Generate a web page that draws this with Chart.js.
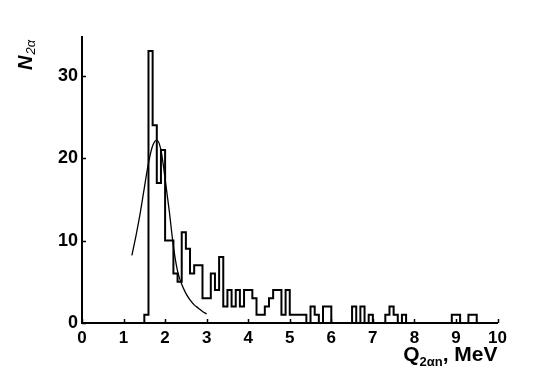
<!DOCTYPE html>
<html><head><meta charset="utf-8">
<script src="https://cdn.jsdelivr.net/npm/chart.js@4.4.1/dist/chart.umd.min.js"></script>
<style>html,body{margin:0;padding:0;background:#fff;overflow:hidden}</style>
</head><body>
<canvas id="c" width="553" height="381"></canvas>
<script>
// Histogram: lower bin edges (MeV) and counts
const binLow = [1.5,1.6,1.7,1.8,1.9,2.0,2.1,2.2,2.3,2.4,2.5,2.6,2.7,2.8,2.9,3.0,3.1,3.2,3.3,3.4,
  3.5,3.6,3.7,3.8,3.9,4.0,4.1,4.2,4.3,4.4,4.5,4.6,4.7,4.8,4.9,5.0,5.1,5.2,5.3,5.4,
  5.5,5.6,5.7,5.8,5.9,6.0,6.1,6.2,6.3,6.4,6.5,6.6,6.7,6.8,6.9,7.0,7.1,7.2,7.3,7.4,
  7.5,7.6,7.7,7.8,7.9,8.0,8.1,8.2,8.3,8.4,8.5,8.6,8.7,8.8,8.9,9.0,9.1,9.2,9.3,9.4];
const lastEdge = 9.5;
const counts = [1,33,24,17,21,10,10,6,5,11,9,6,7,7,3,3,6,4,8,2,
  4,2,4,2,4,4,3,1,1,2,3,4,4,1,4,1,1,1,1,0,
  2,1,0,2,2,0,0,0,0,0,2,0,2,0,1,0,0,0,1,2,
  1,0,1,0,0,0,0,0,0,0,0,0,0,0,1,1,0,0,1,1];
// Fitted curve
const fitQ = [1.2,1.3,1.4,1.5,1.6,1.7,1.8,1.9,2.0,2.1,2.2,2.3,2.4,2.5,2.6,2.7,2.8,2.9,3.0];
const fitN = [8.2,10.6,13.3,16.4,19.4,21.5,22.2,21.0,17.5,13.6,9.3,6.3,4.7,3.6,2.8,2.2,1.8,1.4,1.1];
const xTicks = [0,1,2,3,4,5,6,7,8,9,10];
const yTicks = [0,10,20,30];

const histPts = [{x: binLow[0], y: 0}];
binLow.forEach((q, i) => histPts.push({x: q, y: counts[i]}));
histPts.push({x: lastEdge, y: 0});
const fitPts = fitQ.map((q, i) => ({x: q, y: fitN[i]}));

const FONT = '"Liberation Sans", Arial, sans-serif';

const decor = {
  id: 'decor',
  afterDraw(chart) {
    const ctx = chart.ctx, xs = chart.scales.x, ys = chart.scales.y;
    const a = chart.chartArea;
    ctx.save();
    ctx.strokeStyle = '#000'; ctx.lineWidth = 1.5;
    ctx.beginPath();
    xTicks.forEach(v => { const p = Math.round(xs.getPixelForValue(v)) + 0.5; ctx.moveTo(p, a.bottom); ctx.lineTo(p, a.bottom - 4); });
    yTicks.forEach(v => { const p = Math.round(ys.getPixelForValue(v)) + 0.5; ctx.moveTo(a.left, p); ctx.lineTo(a.left + 4, p); });
    ctx.stroke();
    ctx.fillStyle = '#000';
    // X title: Q_{2αn}, MeV (right aligned to axis end)
    const big = 'bold 21px ' + FONT, small = 'bold 13px ' + FONT;
    ctx.font = big; const wQ = ctx.measureText('Q').width; const wM = ctx.measureText(', MeV').width;
    ctx.font = small; const wS = ctx.measureText('2\u03B1n').width;
    let x0 = a.right - (wQ + wS + wM);
    const base = 361;
    ctx.textBaseline = 'alphabetic'; ctx.textAlign = 'left';
    ctx.font = big; ctx.fillText('Q', x0, base);
    ctx.font = small; ctx.fillText('2\u03B1n', x0 + wQ, base + 5);
    ctx.font = big; ctx.fillText(', MeV', x0 + wQ + wS, base);
    // Y title: N_{2α}, rotated
    ctx.translate(32, 70);
    ctx.rotate(-Math.PI / 2);
    ctx.font = 'italic bold 20px ' + FONT; ctx.fillText('N', 0, 0);
    const wN = ctx.measureText('N').width;
    ctx.font = 'italic 13px ' + FONT; ctx.fillText('2\u03B1', wN + 1, 3);
    ctx.restore();
  }
};

new Chart(document.getElementById('c'), {
  type: 'line',
  data: { datasets: [
    { data: histPts, stepped: 'before', borderColor: '#000', borderWidth: 2, pointRadius: 0, fill: false, tension: 0 },
    { data: fitPts, borderColor: '#000', borderWidth: 1.3, pointRadius: 0, fill: false, tension: 0.4, cubicInterpolationMode: 'monotone' }
  ]},
  options: {
    responsive: false, animation: false, devicePixelRatio: 1,
    layout: { padding: { left: 0, right: 55.5, top: 37, bottom: 0 } },
    plugins: { legend: { display: false }, tooltip: { enabled: false } },
    scales: {
      x: { type: 'linear', min: 0, max: 10,
        afterBuildTicks: s => { s.ticks = xTicks.map(v => ({value: v})); },
        afterFit: s => { s.height = 58; },
        grid: { display: true, drawOnChartArea: false, drawTicks: false },
        border: { display: true, color: '#000', width: 2 },
        ticks: { color: '#000', padding: 5, maxRotation: 0, font: { family: FONT, weight: 'bold', size: 17 } } },
      y: { type: 'linear', min: 0, max: 34.7,
        afterBuildTicks: s => { s.ticks = yTicks.map(v => ({value: v})); },
        afterFit: s => { s.width = 82; },
        grid: { display: true, drawOnChartArea: false, drawTicks: false },
        border: { display: true, color: '#000', width: 2 },
        ticks: { color: '#000', padding: 4, font: { family: FONT, weight: 'bold', size: 18 } } }
    }
  },
  plugins: [decor]
});
</script>
</body></html>
